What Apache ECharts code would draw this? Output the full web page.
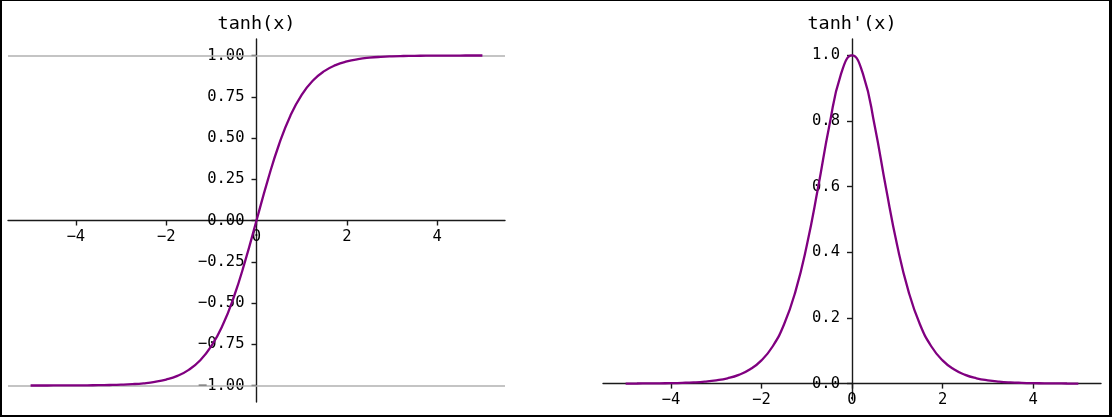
<!DOCTYPE html>
<html>
<head>
<meta charset="utf-8">
<script src="https://cdn.jsdelivr.net/npm/echarts@6/dist/echarts.min.js"></script>
<style>
html,body{margin:0;padding:0;background:#fff;}
#wrap{position:relative;width:1112px;height:417px;}
#c{width:1112px;height:417px;}
#frame{position:absolute;left:0;top:0;right:0;bottom:0;box-sizing:border-box;border-style:solid;border-color:#000;border-width:1px 3px 2px 2px;pointer-events:none;}
</style>
</head>
<body>
<div id="wrap"><div id="c"></div><div id="frame"></div></div>
<script>
// x sample points
const xs = [-5,-4.75,-4.5,-4.25,-4,-3.75,-3.5,-3.25,-3,-2.75,-2.5,-2.25,-2,-1.75,-1.5,-1.25,-1,-0.75,-0.5,-0.25,0,
            0.25,0.5,0.75,1,1.25,1.5,1.75,2,2.25,2.5,2.75,3,3.25,3.5,3.75,4,4.25,4.5,4.75,5];
// tanh(x) values
const tanhVals = [-0.9999,-0.9999,-0.9998,-0.9996,-0.9993,-0.9989,-0.9982,-0.9970,-0.9951,-0.9919,-0.9866,-0.9780,-0.9640,-0.9414,-0.9052,-0.8483,-0.7616,-0.6351,-0.4621,-0.2449,0,
                  0.2449,0.4621,0.6351,0.7616,0.8483,0.9052,0.9414,0.9640,0.9780,0.9866,0.9919,0.9951,0.9970,0.9982,0.9989,0.9993,0.9996,0.9998,0.9999,0.9999];
// tanh'(x) values
const dTanhVals = [0.0002,0.0003,0.0005,0.0008,0.0013,0.0022,0.0036,0.0060,0.0099,0.0162,0.0266,0.0435,0.0707,0.1138,0.1807,0.2804,0.4200,0.5966,0.7864,0.9400,1.0,
                   0.9400,0.7864,0.5966,0.4200,0.2804,0.1807,0.1138,0.0707,0.0435,0.0266,0.0162,0.0099,0.0060,0.0036,0.0022,0.0013,0.0008,0.0005,0.0003,0.0002];
// tick labels / reference lines
const xTicks = [-4,-2,0,2,4];
const yTicksLeft = [-1,-0.75,-0.5,-0.25,0,0.25,0.5,0.75,1];
const yTicksRight = [0,0.2,0.4,0.6,0.8,1.0];
const refLines = [1,-1];
const titles = ['tanh(x)', "tanh'(x)"];

const FONT = 'DejaVu Sans Mono';
const minus = s => String(s).replace('-', '\u2212');

// grid geometry (pixels)
const G = [
  {left:8, top:39, width:497, height:363, xmin:-5.5, xmax:5.5, ymin:-1.1, ymax:1.1},
  {left:603, top:39, width:498, height:361, xmin:-5.5, xmax:5.5, ymin:-0.05, ymax:1.05}
];
// offsets that put each axis through zero of the other axis
function xOff(g){ return -g.height * (0 - g.ymin) / (g.ymax - g.ymin); }
function yOff(g){ return -g.width * (0 - g.xmin) / (g.xmax - g.xmin); }

const AX = {color:'#1a1a1a', width:1.4};

function xAxisCfg(gi){
  const g = G[gi];
  return {
    type:'value', gridIndex:gi, min:g.xmin, max:g.xmax, position:'bottom', offset:xOff(g),
    splitLine:{show:false},
    axisLine:{onZero:false, lineStyle:AX},
    axisTick:{customValues:xTicks, length:5, lineStyle:AX},
    axisLabel:{customValues:xTicks, margin:8, color:'#000', fontFamily:FONT, fontSize:15.5,
      formatter:v=>minus(v)}
  };
}
function yAxisCfg(gi, ticks, dec){
  const g = G[gi];
  return {
    type:'value', gridIndex:gi, min:g.ymin, max:g.ymax, position:'left', offset:yOff(g),
    splitLine:{show:false},
    axisLine:{show:true, onZero:false, lineStyle:AX},
    axisTick:{show:true, customValues:ticks, length:5, lineStyle:AX},
    axisLabel:{customValues:ticks, margin:12, color:'#000', fontFamily:FONT, fontSize:15.5,
      formatter:v=>minus(Number(v).toFixed(dec))}
  };
}

const chart = echarts.init(document.getElementById('c'), null, {renderer:'canvas'});
chart.setOption({
  animation:false,
  backgroundColor:'#fff',
  title:[
    {text:titles[0], left:256.5, top:15, textAlign:'center', padding:0,
     textStyle:{fontFamily:FONT, fontSize:18.5, fontWeight:'normal', color:'#000'}},
    {text:titles[1], left:852, top:15, textAlign:'center', padding:0,
     textStyle:{fontFamily:FONT, fontSize:18.5, fontWeight:'normal', color:'#000'}}
  ],
  grid:G.map(g=>({left:g.left, top:g.top, width:g.width, height:g.height, containLabel:false, outerBoundsMode:'none'})),
  xAxis:[xAxisCfg(0), xAxisCfg(1)],
  yAxis:[yAxisCfg(0, yTicksLeft, 2), yAxisCfg(1, yTicksRight, 1)],
  series:[
    {type:'line', xAxisIndex:0, yAxisIndex:0, data:xs.map((x,i)=>[x,tanhVals[i]]),
     showSymbol:false, smooth:true, lineStyle:{color:'#800080', width:2.3}, z:5,
     markLine:{silent:true, symbol:'none', label:{show:false}, z:3,
       lineStyle:{color:'#b0b0b0', type:'solid', width:1.6},
       data:refLines.map(v=>({yAxis:v}))}},
    {type:'line', xAxisIndex:1, yAxisIndex:1, data:xs.map((x,i)=>[x,dTanhVals[i]]),
     showSymbol:false, smooth:true, lineStyle:{color:'#800080', width:2.3}, z:5}
  ]
});
</script>
</body>
</html>
